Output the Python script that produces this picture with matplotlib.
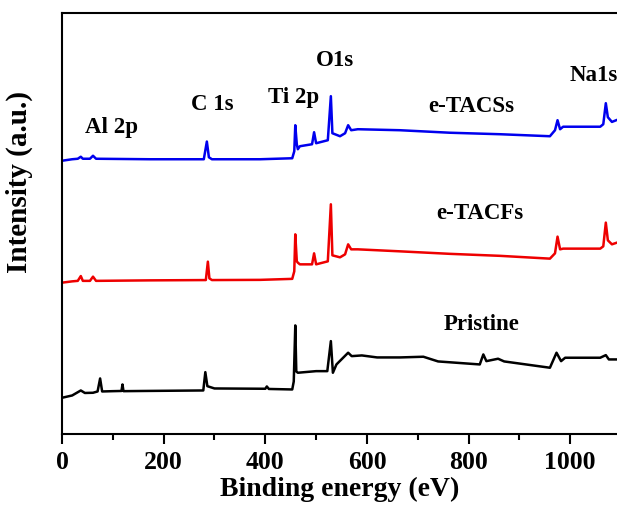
# -*- coding: utf-8 -*-

import matplotlib
matplotlib.use('Agg')
import matplotlib.pyplot as plt
from matplotlib.ticker import MultipleLocator, NullLocator

# Survey spectra (binding energy in eV, intensity in a.u.)
energy_tacss = [0, 20, 31, 37, 41, 55, 61, 67, 173, 279, 285, 289, 295, 390, 453, 457,
                459, 462, 464, 468, 492, 496, 500, 523, 529, 532, 547, 557, 563, 569,
                582, 665, 763, 862, 960, 970, 975, 980, 986, 1019, 1059, 1065, 1070,
                1074, 1082, 1092]
int_tacss = [272.5, 274, 274.5, 276.5, 274.5, 274.5, 277.5, 274.5, 274, 274, 291.7, 276,
             274, 274, 275, 282, 308, 289, 284, 287, 289, 301, 290, 293, 337, 300, 297,
             300, 308, 303, 304, 303, 300.5, 299, 297, 303, 313, 304, 306.5, 306.5,
             306.5, 309, 330, 316, 311.3, 313.3]

energy_tacfs = [0, 20, 31, 37, 41, 55, 61, 67, 173, 283, 287, 290, 295, 390, 453, 457,
                459, 462, 464, 468, 492, 496, 500, 523, 529, 532, 547, 557, 563, 569,
                582, 665, 763, 862, 960, 970, 975, 980, 986, 1019, 1059, 1065, 1070,
                1074, 1082, 1092]
int_tacfs = [150.7, 152, 152.5, 157.3, 152.5, 152.5, 156.7, 152.5, 153, 153.3, 171.7, 155,
             153.3, 153.5, 154.5, 162, 199, 172, 170.7, 169, 169, 180, 169, 172, 229,
             178, 176, 179, 189, 184, 184, 182, 179.5, 177.5, 174.7, 180, 196.7, 184,
             184.7, 184.7, 184.7, 187, 210.7, 193, 189, 190.7]

energy_pristine = [0, 20, 37, 45, 61, 70, 75, 79, 100, 117, 119, 121, 160, 278, 282, 286,
                   300, 400, 403, 407, 453, 456, 459, 461, 464, 500, 522, 529, 533, 540,
                   563, 570, 590, 620, 665, 711, 740, 822, 829, 835, 858, 870, 960, 973,
                   982, 990, 1059, 1070, 1076, 1092]
int_pristine = [35.7, 38, 43, 40.5, 40.7, 42, 55, 42, 42.3, 42.5, 49, 42.3, 42.5, 43, 61.3,
                47.3, 45, 44.7, 47, 44.5, 44, 52, 108, 62, 60.7, 62.3, 62.3, 92.3, 60.7,
                69, 80.7, 77.3, 78, 76, 76, 76.7, 72, 69, 79, 72.3, 74.7, 72, 65.7, 80.7,
                72.3, 75.7, 75.7, 78.3, 74, 74]

peak_labels = ['Al 2p', 'C 1s', 'Ti 2p', 'O1s', 'Na1s']
peak_x = [98, 295, 456, 537, 1047]
peak_y = [307, 330, 337, 374, 359]

sample_labels = ['e-TACSs', 'e-TACFs', 'Pristine']
sample_x = [805, 822, 825]
sample_y = [328, 221, 110]

plt.rcParams['font.family'] = ['Liberation Serif', 'DejaVu Serif']
plt.rcParams['font.weight'] = 'bold'

fig = plt.figure(figsize=(6.17, 5.06), dpi=100)
ax = fig.add_axes([62 / 617, 0.1413, 1 - 62 / 617, 0.8308])

lw = 1.8
ax.plot(energy_pristine, int_pristine, color='black', lw=lw)
ax.plot(energy_tacfs, int_tacfs, color='#ee0000', lw=lw)
ax.plot(energy_tacss, int_tacss, color='#0000ee', lw=lw)

for lab, x, y in zip(peak_labels, peak_x, peak_y):
    ax.text(x, y, lab, ha='center', va='center', fontsize=16.5, fontweight='bold')
for lab, x, y in zip(sample_labels, sample_x, sample_y):
    ax.text(x, y, lab, ha='center', va='center', fontsize=16.5, fontweight='bold')

ax.set_xlim(0, 1092)
ax.set_ylim(0, 420)
ax.xaxis.set_major_locator(MultipleLocator(200))
ax.xaxis.set_minor_locator(MultipleLocator(100))
ax.yaxis.set_major_locator(NullLocator())
ax.tick_params(axis='x', which='major', direction='out', length=7, width=1.5,
               labelsize=18.5, pad=5)
ax.tick_params(axis='x', which='minor', direction='out', length=4, width=1.5)
for lab in ax.get_xticklabels():
    lab.set_fontweight('bold')

ax.spines['right'].set_visible(False)
for s in ['left', 'top', 'bottom']:
    ax.spines[s].set_linewidth(1.5)

ax.set_xlabel('Binding energy (eV)', fontsize=20, fontweight='bold', labelpad=2)
ax.set_ylabel('Intensity (a.u.)', fontsize=21, fontweight='bold')
# the label sits above the centre of the axis in the original
ax.yaxis.set_label_coords(-0.052, 0.6)

fig.savefig('out.png', dpi=100)
